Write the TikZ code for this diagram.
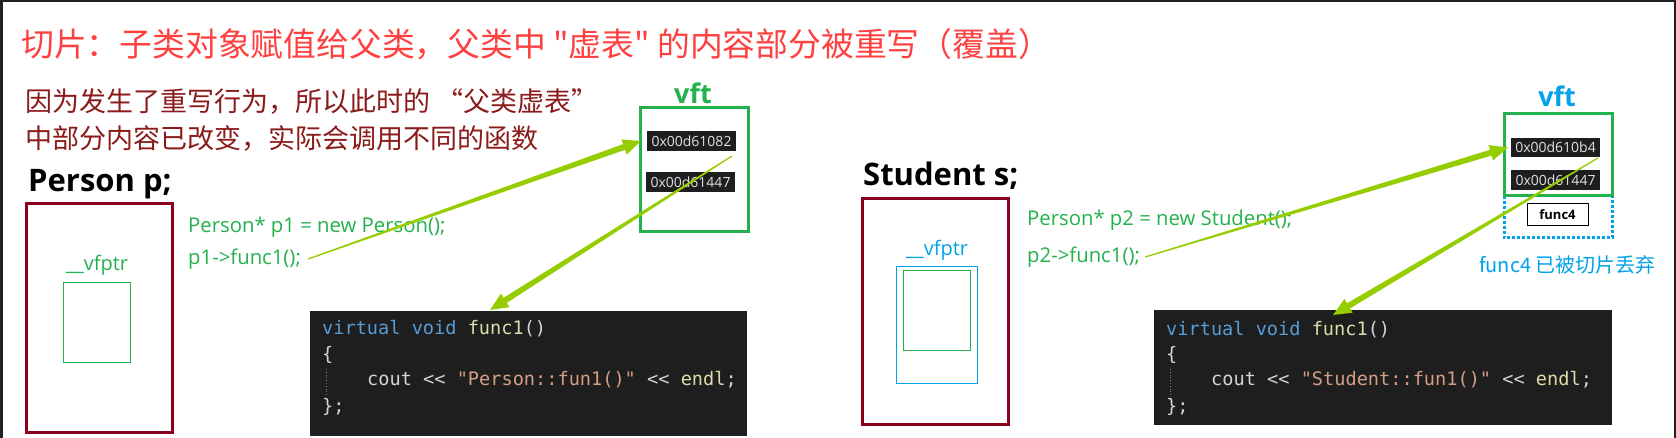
\documentclass[tikz,border=0pt]{standalone}
\usepackage{fontspec}
\setmainfont{Open Sans}
\newfontfamily\cjk{Noto Sans CJK SC}
\newfontfamily\mono{DejaVu Sans Mono}
\usetikzlibrary{calc}
\definecolor{titlered}{RGB}{255,64,64}
\definecolor{subred}{RGB}{139,26,26}
\definecolor{boxred}{RGB}{140,0,30}
\definecolor{grn}{RGB}{34,177,76}
\definecolor{blu}{RGB}{0,162,232}
\definecolor{arrowc}{RGB}{150,205,0}
\definecolor{codebg}{RGB}{30,30,30}
\definecolor{kw}{RGB}{86,156,214}
\definecolor{fn}{RGB}{220,220,170}
\definecolor{pu}{RGB}{212,212,212}
\definecolor{st}{RGB}{214,157,133}
\definecolor{addrtxt}{RGB}{225,225,225}
\definecolor{frame}{RGB}{32,32,32}
\newcommand\taperarrow[3]{%
  \coordinate (#3h) at ($(#2)!18pt!(#1)$);
  \fill[arrowc] ($(#1)!0.6pt!90:(#2)$) -- ($(#3h)!3pt!-90:(#1)$) -- ($(#3h)!8pt!-90:(#1)$) -- (#2)
     -- ($(#3h)!8pt!90:(#1)$) -- ($(#3h)!3pt!90:(#1)$) -- ($(#1)!0.6pt!-90:(#2)$) -- cycle;}
\tikzset{
  box/.style={anchor=north west, inner sep=0pt, outer sep=0pt},
  redbox/.style={box, draw=boxred, line width=3pt},
  thinbox/.style={box, draw=#1, line width=1pt},
  vftbox/.style={box, draw=grn, line width=3pt},
  addr/.style={box, fill=codebg, text=addrtxt, font=\fontsize{14pt}{16pt}\selectfont},
  codebox/.style={box, fill=codebg},
  codeline/.style={anchor=west, inner sep=0pt, font=\mono\fontsize{18.6pt}{20pt}\selectfont},
  gtext/.style={anchor=west, inner sep=0pt, text=grn, font=\fontsize{20.3pt}{24pt}\selectfont},
  bigbold/.style={anchor=base west, inner sep=0pt, font=\bfseries\fontsize{31pt}{36pt}\selectfont},
  vftlabel/.style={inner sep=0pt, font=\bfseries\fontsize{27pt}{30pt}\selectfont},
  ptrlabel/.style={inner sep=0pt, font=\fontsize{20pt}{24pt}\selectfont},
}
\begin{document}
\begin{tikzpicture}[x=1pt,y=-1pt]
\useasboundingbox (0,0) rectangle (1676,438);
\fill[white] (0,0) rectangle (1676,438);
% frame
\fill[frame] (0,0) rectangle (1676,2.5);
\fill[frame] (0,0) rectangle (3,438);
\fill[frame] (1673.5,0) rectangle (1676,438);

% title and notes
\node[anchor=west, inner sep=0pt, text=titlered, font=\cjk\fontsize{32.8pt}{36pt}\selectfont] (title) at (21,44)
  {切片：子类对象赋值给父类，父类中 "虚表" 的内容部分被重写（覆盖）};
\node[anchor=west, inner sep=0pt, text=subred, font=\cjk\fontsize{27pt}{30pt}\selectfont] (note1) at (25,102)
  {因为发生了重写行为，所以此时的 “父类虚表”};
\node[anchor=west, inner sep=0pt, text=subred, font=\cjk\fontsize{27pt}{30pt}\selectfont] (note2) at (25,138)
  {中部分内容已改变，实际会调用不同的函数};

% ---------- left: Person ----------
\node[bigbold] (pp) at (28,192) {Person p;};
\node[redbox, minimum width=146pt, minimum height=228pt] (objL) at (26,204) {};
\node[ptrlabel, text=grn] (vfptrL) at (97,265) {\_\_vfptr};
\node[thinbox=grn, minimum width=67pt, minimum height=79pt] (ptrL) at (63,283) {};

\node[gtext] (p1new) at (188,227) {Person* p1 = new Person();};
\node[gtext] (p1call) at (188,259) {p1->func1();};

\node[vftlabel, text=grn] (vftL) at (693,93) {vft};
\node[vftbox, minimum width=108pt, minimum height=124pt] (tabL) at (640,108) {};
\node[addr, minimum width=89pt, minimum height=20pt] (addr1L) at (647,131) {0x00d61082};
\node[addr, minimum width=89pt, minimum height=20pt] (addr2L) at (646,172) {0x00d61447};

\node[codebox, minimum width=437pt, minimum height=125pt] (codeL) at (310,311) {};
\node[codeline] (cl1) at ($(codeL.north west)+(12,18)$) {\textcolor{kw}{virtual void} \textcolor{fn}{func1}\textcolor{pu}{()}};
\node[codeline] (cl2) at ($(codeL.north west)+(12,44)$) {\textcolor{pu}{\{}};
\node[codeline] (cl3) at ($(codeL.north west)+(57,69)$) {\textcolor{pu}{cout <{}<} \textcolor{st}{"Person::fun1()"} \textcolor{pu}{<{}<} \textcolor{fn}{endl}\textcolor{pu}{;}};
\node[codeline] (cl4) at ($(codeL.north west)+(12,96)$) {\textcolor{pu}{\};}};
\draw[gray, dotted, line width=0.8pt] ($(codeL.north west)+(16,58)$) -- ($(codeL.north west)+(16,84)$);

% ---------- right: Student ----------
\node[bigbold] (ss) at (863,186) {Student s;};
\node[redbox, minimum width=146pt, minimum height=225pt] (objR) at (862,199) {};
\node[ptrlabel, text=blu] (vfptrR) at (937,250) {\_\_vfptr};
\node[thinbox=blu, minimum width=81pt, minimum height=116pt] (ptrR) at (896,267) {};
\node[thinbox=grn, minimum width=67pt, minimum height=79pt] (ptrRin) at (903,271) {};

\node[gtext] (p2new) at (1027,220) {Person* p2 = new Student();};
\node[gtext] (p2call) at (1027,257) {p2->func1();};

\node[vftlabel, text=blu] (vftR) at (1557,96) {vft};
\draw[blu, line width=3pt, dotted] (1504,196) -- (1504,238) -- (1612,238) -- (1612,196);
\node[vftbox, minimum width=108pt, minimum height=82pt] (tabR) at (1504,114) {};
\node[addr, minimum width=89pt, minimum height=19pt] (addr1R) at (1511,138) {0x00d610b4};
\node[addr, minimum width=89pt, minimum height=20pt] (addr2R) at (1511,170) {0x00d61447};
\node[thinbox=black, fill=white, minimum width=61pt, minimum height=22pt, font=\bfseries\fontsize{13pt}{15pt}\selectfont] (f4) at (1527,204) {func4};
\node[anchor=west, inner sep=0pt, text=blu, font=\cjk\fontsize{20pt}{24pt}\selectfont] (f4note) at (1479,265) {func4 已被切片丢弃};

\node[codebox, minimum width=458pt, minimum height=115pt] (codeR) at (1154,310) {};
\node[codeline] (cr1) at ($(codeR.north west)+(12,20)$) {\textcolor{kw}{virtual void} \textcolor{fn}{func1}\textcolor{pu}{()}};
\node[codeline] (cr2) at ($(codeR.north west)+(12,45)$) {\textcolor{pu}{\{}};
\node[codeline] (cr3) at ($(codeR.north west)+(57,70)$) {\textcolor{pu}{cout <{}<} \textcolor{st}{"Student::fun1()"} \textcolor{pu}{<{}<} \textcolor{fn}{endl}\textcolor{pu}{;}};
\node[codeline] (cr4) at ($(codeR.north west)+(12,97)$) {\textcolor{pu}{\};}};
\draw[gray, dotted, line width=0.8pt] ($(codeR.north west)+(16,59)$) -- ($(codeR.north west)+(16,85)$);

% ---------- arrows ----------
\coordinate (a1s) at ($(p1call.east)+(7,0)$);
\coordinate (a1e) at ($(addr1L.west)+(-6,0)$);
\coordinate (a2s) at ($(addr1L.south east)+(-4,5)$);
\coordinate (a2e) at ($(codeL.north west)+(180,-1)$);
\coordinate (a3s) at ($(p2call.east)+(5,0)$);
\coordinate (a3e) at ($(addr1R.west)+(-3,0)$);
\coordinate (a4s) at ($(addr1R.south east)+(-2,1)$);
\coordinate (a4e) at ($(codeR.north west)+(179,5)$);
\taperarrow{a1s}{a1e}{a1}
\taperarrow{a2s}{a2e}{a2}
\taperarrow{a3s}{a3e}{a3}
\taperarrow{a4s}{a4e}{a4}
\end{tikzpicture}
\end{document}
